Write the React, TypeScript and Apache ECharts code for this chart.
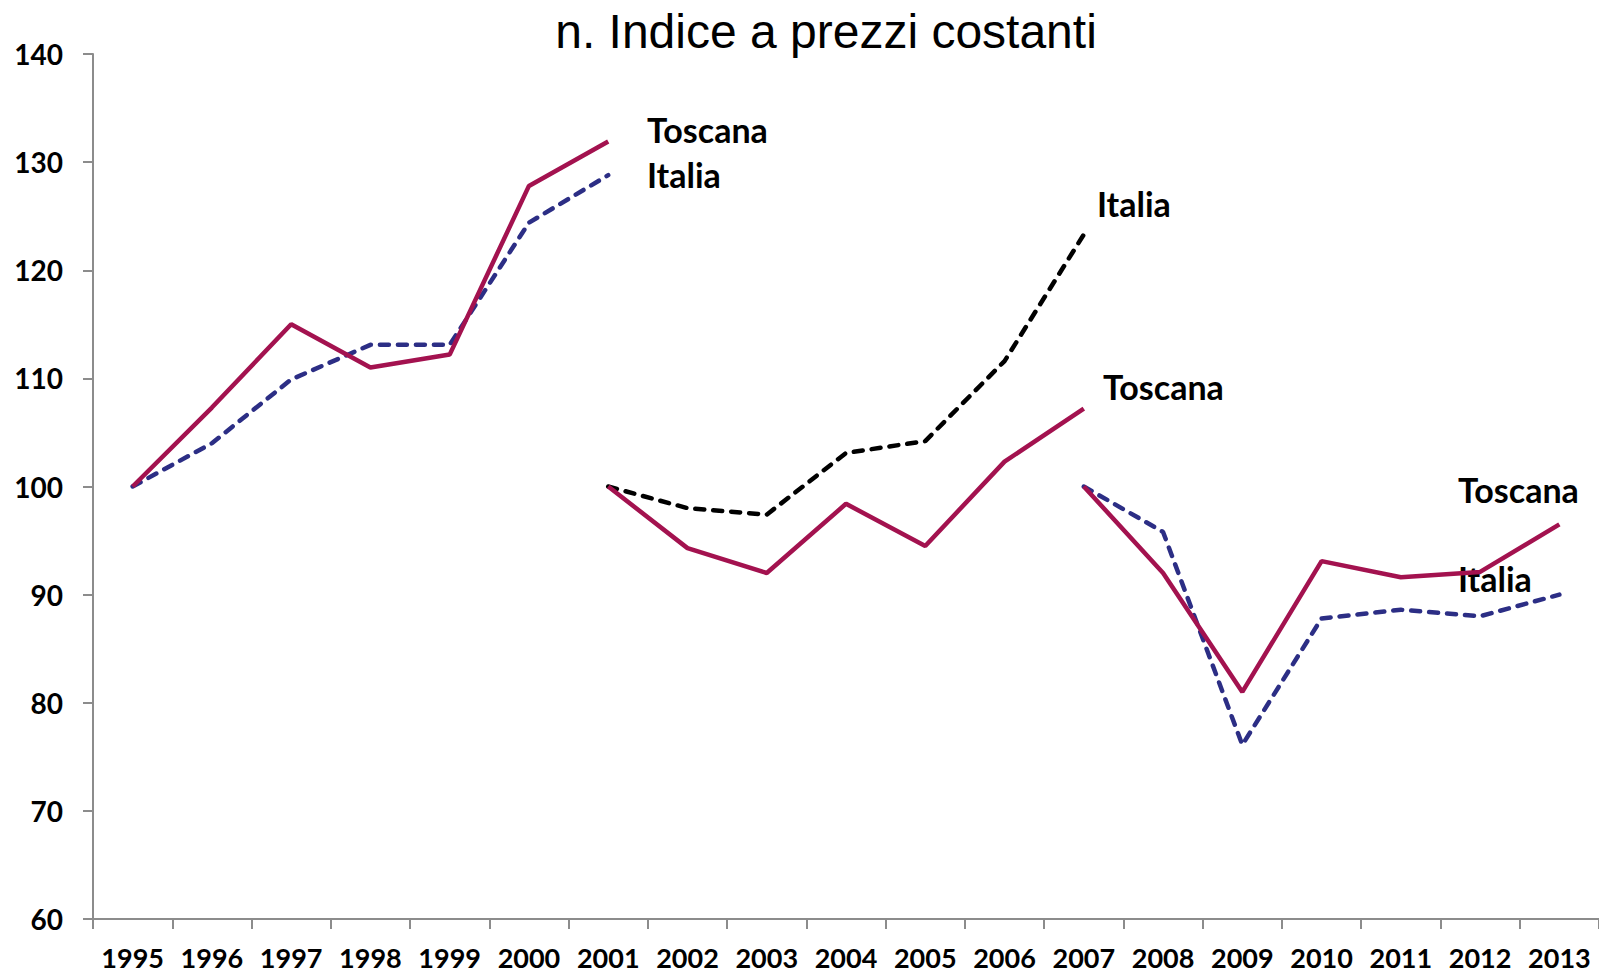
import React, { useEffect, useRef } from "react";
import * as echarts from "echarts";

const years = ["1995", "1996", "1997", "1998", "1999", "2000", "2001", "2002", "2003", "2004", "2005", "2006", "2007", "2008", "2009", "2010", "2011", "2012", "2013"];

// segment 1: 1995-2001 (index base 1995)
const toscana9501 = [100, 107.3, 115.0, 111.0, 112.2, 127.8, 131.9];
const italia9501 = [100, 104.0, 109.9, 113.1, 113.1, 124.4, 128.8];
// segment 2: 2001-2007 (index base 2001)
const toscana0107 = [100, 94.3, 92.0, 98.4, 94.5, 102.3, 107.2];
const italia0107 = [100, 98.0, 97.4, 103.1, 104.2, 111.6, 123.3];
// segment 3: 2007-2013 (index base 2007)
const toscana0713 = [100, 92.0, 81.0, 93.1, 91.6, 92.1, 96.5];
const italia0713 = [100, 95.8, 76.1, 87.8, 88.6, 88.0, 90.0];

const segmentStart = { s1: "1995", s2: "2001", s3: "2007" };

const pad = (vals: number[], startYear: string) => {
  const off = years.indexOf(startYear);
  return years.map((_, i) => (i >= off && i < off + vals.length ? vals[i - off] : null));
};

const RED = "#A3124F";
const BLUE = "#2C2E85";
const BLACK = "#000000";
const AXIS = "#8C8C8C";

const labelFont = "bold 34px Lato";

export default function App() {
  const ref = useRef<HTMLDivElement>(null);
  useEffect(() => {
    if (!ref.current) return;
    const chart = echarts.init(ref.current, null, { renderer: "svg" });
    const solid = (color: string) => ({ color, width: 4.5, type: "solid" as const });
    const dashed = (color: string) => ({ color, width: 4.5, type: [9, 9], cap: "round" as const });
    const mk = (name: string, data: (number | null)[], lineStyle: any) => ({
      name,
      type: "line",
      data,
      showSymbol: false,
      symbol: "none",
      connectNulls: false,
      lineStyle,
      itemStyle: { color: lineStyle.color },
      z: 2,
    });
    chart.setOption({
      animation: false,
      backgroundColor: "#ffffff",
      title: {
        text: "n. Indice a prezzi costanti",
        left: 821,
        top: 2,
        textAlign: "center",
        textStyle: { fontFamily: "Liberation Sans", fontWeight: "normal", fontSize: 48, color: "#000" },
      },
      grid: { left: 93, right: -3, top: 54, bottom: 56, containLabel: false },
      xAxis: {
        type: "category",
        data: years,
        boundaryGap: true,
        axisLine: { lineStyle: { color: AXIS, width: 2 } },
        axisTick: { show: true, length: 10, interval: 0, lineStyle: { color: AXIS, width: 2 } },
        axisLabel: { interval: 0, margin: 24, lineHeight: 28, fontFamily: "Lato", fontWeight: "bold", fontSize: 27, color: "#000" },
        splitLine: { show: false },
      },
      yAxis: {
        type: "value",
        min: 60,
        max: 140,
        interval: 10,
        axisLine: { show: true, lineStyle: { color: AXIS, width: 2 } },
        axisTick: { show: true, length: 10, lineStyle: { color: AXIS, width: 2 } },
        axisLabel: { margin: 30, fontFamily: "Lato", fontWeight: "bold", fontSize: 28, color: "#000" },
        splitLine: { show: false },
      },
      series: [
        mk("Italia 1995-2001", pad(italia9501, segmentStart.s1), dashed(BLUE)),
        mk("Toscana 1995-2001", pad(toscana9501, segmentStart.s1), solid(RED)),
        mk("Italia 2001-2007", pad(italia0107, segmentStart.s2), dashed(BLACK)),
        mk("Toscana 2001-2007", pad(toscana0107, segmentStart.s2), solid(RED)),
        mk("Italia 2007-2013", pad(italia0713, segmentStart.s3), dashed(BLUE)),
        mk("Toscana 2007-2013", pad(toscana0713, segmentStart.s3), solid(RED)),
      ],
      graphic: [
        { type: "text", x: 647, y: 129, style: { text: "Toscana", font: labelFont, fill: "#000", verticalAlign: "middle" } },
        { type: "text", x: 647, y: 174, style: { text: "Italia", font: labelFont, fill: "#000", verticalAlign: "middle" } },
        { type: "text", x: 1097, y: 203, style: { text: "Italia", font: labelFont, fill: "#000", verticalAlign: "middle" } },
        { type: "text", x: 1103, y: 386, style: { text: "Toscana", font: labelFont, fill: "#000", verticalAlign: "middle" } },
        { type: "text", x: 1458, y: 489, style: { text: "Toscana", font: labelFont, fill: "#000", verticalAlign: "middle" } },
        { type: "text", x: 1458, y: 578, style: { text: "Italia", font: labelFont, fill: "#000", verticalAlign: "middle" } },
      ],
    });
    return () => chart.dispose();
  }, []);
  return <div ref={ref} style={{ position: "absolute", left: 0, top: 0, width: 1599, height: 975 }} />;
}
